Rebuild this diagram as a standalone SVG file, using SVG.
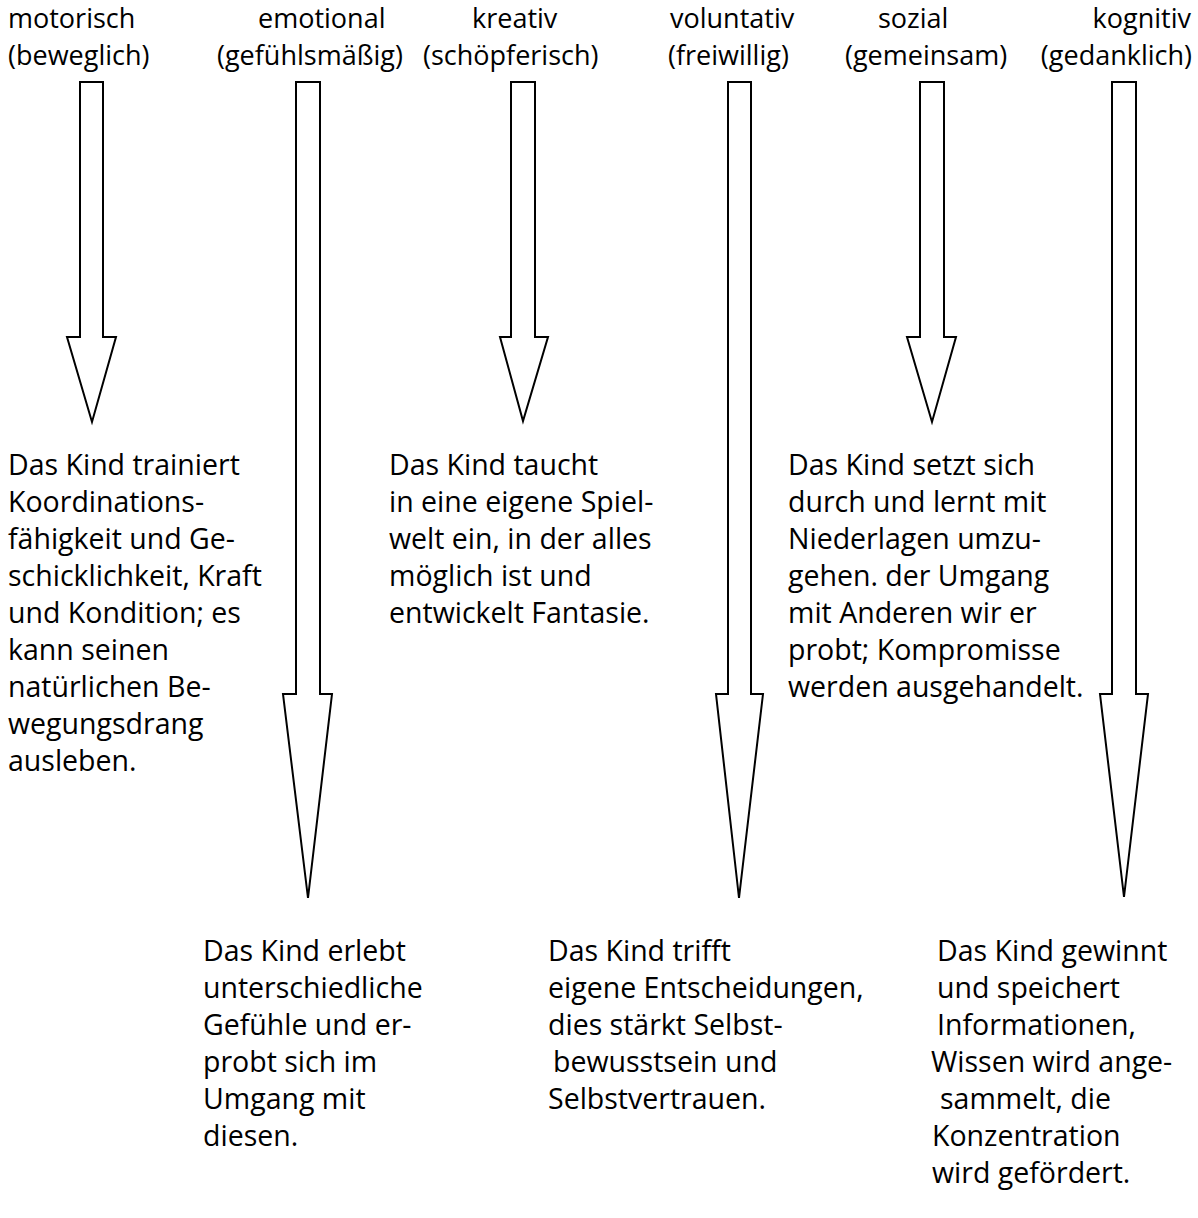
<svg xmlns="http://www.w3.org/2000/svg" width="1198" height="1218" viewBox="0 0 1198 1218">
<style>
text{font-family:"Open Sans","Lato",sans-serif;font-size:28.5px;fill:#000}
.hd{font-size:27px}
.end{text-anchor:end}
.arrow{fill:#fff;stroke:#000;stroke-width:2;stroke-linejoin:miter}
</style>
<rect width="1198" height="1218" fill="#fff"/>
<g id="connectors">
<polygon id="arrow-motorisch" class="arrow" points="80,82 103,82 103,337 116,337 92,422 67,337 80,337"/>
<polygon id="arrow-emotional" class="arrow" points="296,82 320,82 320,694 332,694 308,898 283,694 296,694"/>
<polygon id="arrow-kreativ" class="arrow" points="511,82 535,82 535,337 548,337 523,421 500,337 511,337"/>
<polygon id="arrow-voluntativ" class="arrow" points="728,82 751,82 751,694 763,694 739,898 716,694 728,694"/>
<polygon id="arrow-sozial" class="arrow" points="920,82 944,82 944,337 956,337 932,422 907,337 920,337"/>
<polygon id="arrow-kognitiv" class="arrow" points="1112,82 1136,82 1136,694 1148,694 1124,897 1100,694 1112,694"/>
</g>
<g id="header-motorisch"><text class="hd" x="8" y="28">motorisch</text><text class="hd" x="8" y="65">(beweglich)</text></g>
<g id="header-emotional"><text class="hd" x="258" y="28">emotional</text><text class="hd" x="217" y="65">(gefühlsmäßig)</text></g>
<g id="header-kreativ"><text class="hd" x="472" y="28">kreativ</text><text class="hd" x="423" y="65">(schöpferisch)</text></g>
<g id="header-voluntativ"><text class="hd" x="670" y="28">voluntativ</text><text class="hd" x="668" y="65">(freiwillig)</text></g>
<g id="header-sozial"><text class="hd" x="878" y="28">sozial</text><text class="hd" x="845" y="65">(gemeinsam)</text></g>
<g id="header-kognitiv"><text class="hd end" x="1191" y="28">kognitiv</text><text class="hd end" x="1192" y="65">(gedanklich)</text></g>
<g id="text-motorisch">
<text x="8" y="475">Das Kind trainiert</text>
<text x="8" y="512">Koordinations-</text>
<text x="8" y="549">fähigkeit und Ge-</text>
<text x="8" y="586">schicklichkeit, Kraft</text>
<text x="8" y="623">und Kondition; es</text>
<text x="8" y="660">kann seinen</text>
<text x="8" y="697">natürlichen Be-</text>
<text x="8" y="734">wegungsdrang</text>
<text x="8" y="771">ausleben.</text>
</g>
<g id="text-kreativ">
<text x="389" y="475">Das Kind taucht</text>
<text x="389" y="512">in eine eigene Spiel-</text>
<text x="389" y="549">welt ein, in der alles</text>
<text x="389" y="586">möglich ist und</text>
<text x="389" y="623">entwickelt Fantasie.</text>
</g>
<g id="text-sozial">
<text x="788" y="475">Das Kind setzt sich</text>
<text x="788" y="512">durch und lernt mit</text>
<text x="788" y="549">Niederlagen umzu-</text>
<text x="788" y="586">gehen. der Umgang</text>
<text x="788" y="623">mit Anderen wir er</text>
<text x="788" y="660">probt; Kompromisse</text>
<text x="788" y="697">werden ausgehandelt.</text>
</g>
<g id="text-emotional">
<text x="203" y="961">Das Kind erlebt</text>
<text x="203" y="998">unterschiedliche</text>
<text x="203" y="1035">Gefühle und er-</text>
<text x="203" y="1072">probt sich im</text>
<text x="203" y="1109">Umgang mit</text>
<text x="203" y="1146">diesen.</text>
</g>
<g id="text-voluntativ">
<text x="548" y="961">Das Kind trifft</text>
<text x="548" y="998">eigene Entscheidungen,</text>
<text x="548" y="1035">dies stärkt Selbst-</text>
<text x="553" y="1072">bewusstsein und</text>
<text x="548" y="1109">Selbstvertrauen.</text>
</g>
<g id="text-kognitiv">
<text x="937" y="961">Das Kind gewinnt</text>
<text x="937" y="998">und speichert</text>
<text x="937" y="1035">Informationen,</text>
<text x="931" y="1072">Wissen wird ange-</text>
<text x="940" y="1109">sammelt, die</text>
<text x="932" y="1146">Konzentration</text>
<text x="932" y="1183">wird gefördert.</text>
</g>
</svg>
